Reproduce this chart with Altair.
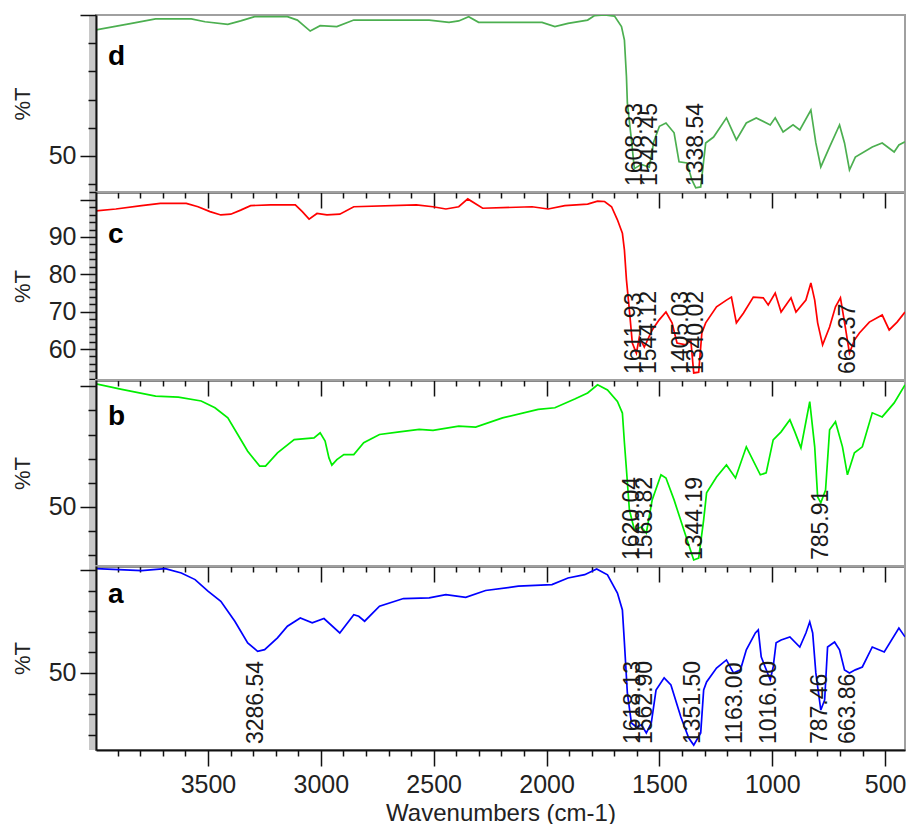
import altair as alt
import pandas as pd

# ---------------- data ----------------
WN_D = [3996, 3838, 3732, 3574, 3513, 3412, 3355, 3293, 3148, 3104,
        3047, 3003, 2929, 2854, 2520, 2432, 2389, 2345, 2301, 2020,
        1963, 1905, 1818, 1787, 1743, 1699, 1668, 1655, 1646, 1642,
        1624, 1611, 1580, 1545, 1525, 1500, 1471, 1435, 1413, 1378,
        1356, 1339, 1317, 1295, 1260, 1203, 1159, 1115, 1071, 1009,
        987, 952, 908, 878, 829, 807, 785, 746, 702, 680,
        658, 632, 557, 513, 460, 439, 412]
T_D = [94.7, 97, 98.6, 98.6, 97.6, 96.7, 97.9, 99.4, 99.4, 98.2,
       94.3, 96.2, 95.9, 98.2, 98.2, 97.4, 97.9, 99.4, 97.4, 97.4,
       95.9, 97, 98.2, 99.8, 100, 99.6, 95.9, 91.1, 78.1, 68.8,
       55.7, 45.5, 47, 46, 55, 60.5, 61.7, 58.2, 47.9, 47.5,
       41.5, 38.7, 39, 54.6, 56.7, 63.5, 55.7, 61.7, 63.5, 61,
       63.5, 58.5, 61, 59.2, 66.3, 54.6, 46.1, 53.2, 61, 54.6,
       45, 49.6, 53.2, 54.6, 51.4, 53.9, 55]

WN_C = [3996, 3908, 3794, 3711, 3596, 3544, 3491, 3443, 3399, 3355,
        3311, 3223, 3113, 3082, 3052, 3017, 2973, 2916, 2854, 2577,
        2503, 2446, 2389, 2349, 2283, 2064, 1993, 1919, 1818, 1774,
        1743, 1712, 1686, 1664, 1655, 1646, 1633, 1620, 1602, 1589,
        1567, 1532, 1501, 1471, 1444, 1422, 1383, 1361, 1348, 1326,
        1312, 1295, 1247, 1203, 1181, 1159, 1128, 1084, 1040, 1018,
        987, 961, 917, 895, 851, 829, 812, 799, 777, 746,
        720, 698, 680, 658, 636, 614, 570, 513, 482, 447,
        412]
T_C = [97, 97.5, 98.4, 99, 99, 98.1, 96.8, 95.9, 96.1, 97.2,
       98.4, 98.6, 98.6, 96.8, 94.8, 96.3, 95.9, 96.1, 98.1, 98.6,
       98.1, 97.5, 98.1, 100.2, 97.7, 98.1, 97.5, 98.4, 98.8, 99.6,
       99.5, 98.1, 94.6, 91, 86.5, 78.5, 70.4, 61.6, 58.9, 63.2,
       60.5, 65.1, 67.8, 69.9, 67, 61.6, 61.1, 62.4, 53.6, 53.8,
       64.3, 67, 71.3, 73.1, 73.9, 67, 69.6, 73.9, 73.7, 71.8,
       75, 69.9, 73.7, 69.9, 73.1, 77.7, 73.1, 67, 61.1, 65.9,
       71.3, 73.7, 67.2, 58.9, 62.4, 64.3, 67.2, 69.1, 65.1, 67.2,
       69.9]

WN_B = [3996, 3882, 3732, 3631, 3530, 3469, 3412, 3368, 3324, 3271,
        3245, 3192, 3118, 3030, 3003, 2981, 2964, 2951, 2929, 2898,
        2854, 2810, 2740, 2652, 2564, 2503, 2389, 2314, 2195, 2037,
        1963, 1875, 1818, 1774, 1730, 1686, 1664, 1655, 1646, 1633,
        1611, 1580, 1558, 1532, 1493, 1471, 1435, 1392, 1348, 1326,
        1304, 1291, 1247, 1203, 1163, 1115, 1053, 1027, 996, 961,
        922, 900, 873, 851, 834, 812, 799, 785, 764, 746,
        720, 689, 667, 636, 601, 557, 513, 460, 412]
T_B = [101, 98.7, 95.9, 95.5, 93.9, 91.1, 86.9, 80, 73.1, 66.9,
       66.9, 72.4, 77.9, 78.6, 80.7, 77.3, 70.3, 67.3, 69.6, 71.7,
       71.7, 76.6, 80, 81.1, 82.1, 81.7, 83.5, 83.1, 86.9, 90.4,
       91.1, 94.7, 97.2, 100.6, 98.5, 93.7, 88.9, 76.6, 65.4, 48.8,
       40.5, 41.7, 39.2, 52.9, 63.3, 62, 52.9, 40.5, 28, 28.8,
       44.6, 55.8, 62.4, 67.4, 62, 74.9, 63.3, 64.1, 77.8, 81.1,
       86.1, 81.1, 74.5, 85.3, 93.6, 74.9, 54.1, 51.7, 57, 82,
       85.3, 74.9, 63.3, 72.4, 74.9, 89, 87.3, 93.1, 100.6]

WN_A = [3996, 3794, 3689, 3618, 3557, 3500, 3443, 3381, 3324, 3280,
        3249, 3192, 3148, 3091, 3038, 2986, 2916, 2854, 2832, 2806,
        2740, 2634, 2520, 2446, 2358, 2270, 2125, 1976, 1905, 1831,
        1778, 1730, 1686, 1664, 1655, 1642, 1624, 1602, 1580, 1558,
        1536, 1515, 1479, 1449, 1405, 1370, 1348, 1317, 1304, 1291,
        1247, 1203, 1172, 1141, 1115, 1075, 1062, 1049, 1009, 996,
        983, 961, 922, 878, 851, 834, 821, 807, 785, 768,
        755, 724, 702, 680, 658, 632, 601, 557, 504, 439,
        412]
T_A = [100.6, 99.7, 100.6, 98.5, 95.3, 89.7, 84.8, 75.1, 64.6, 60.5,
       61.3, 67, 72.7, 76.7, 74.3, 76.4, 69.4, 78.3, 77.5, 75.1,
       82.4, 86.1, 86.4, 88, 86.7, 90, 92.1, 92.9, 96.1, 97.7,
       100.5, 97.6, 88.8, 80.6, 64.6, 40.3, 25.7, 23.8, 24.8, 20.9,
       25.7, 41.7, 47.6, 44.2, 28.6, 18.4, 15, 20.9, 41.7, 45.6,
       52.4, 56.3, 50, 51.5, 61.2, 69.4, 70.9, 57.8, 46.6, 52.9,
       64.6, 66, 67.5, 62.6, 69.4, 74.8, 69.4, 50, 32, 36.9,
       62.6, 65, 61.2, 51.5, 50, 51.5, 52.9, 62.6, 60.2, 71.8,
       67.5]

PEAKS_D = ["1608.33", "1542.45", "1338.54"]
PEAKS_C = ["1611.93", "1544.12", "1405.03", "1340.02", "662.37"]
PEAKS_B = ["1620.04", "1563.82", "1344.19", "785.91"]
PEAKS_A = ["3286.54", "1618.13", "1562.90", "1351.50", "1163.00",
           "1016.00", "787.46", "663.86"]

PANEL_LETTERS = ["d", "c", "b", "a"]
X_TICKS = list(range(500, 4000, 100))
X_DOMAIN = [412, 3996]

# ---------------- styling ----------------
FONT = "Liberation Sans"
WIDTH = 809
COLORS = ["#4caf50", "#ff0000", "#00ee00", "#0000ff"]


def eq_test(vals):
    return " || ".join(f"datum.value === {v}" for v in vals)


def make_panel(wn, t, peaks, letter, color, ydom, yvals, ymajor, ylabels,
               minor, height, letter_y, bottom):
    spec_df = pd.DataFrame({"wn": wn, "T": t})
    peak_df = pd.DataFrame({"label": peaks, "pos": [float(p) for p in peaks]})
    one_df = pd.DataFrame({"letter": [letter]})

    xscale = alt.Scale(domain=X_DOMAIN, reverse=True, nice=False, zero=False)
    yscale = alt.Scale(domain=ydom, nice=False, zero=False)

    xaxis_kw = dict(
        values=X_TICKS,
        tickSize={"condition": {"test": "datum.value % 500 === 0", "value": 16},
                  "value": 6},
        tickColor="#111", tickWidth=1.5,
        domainColor="#111", domainWidth=2,
        grid=False, zindex=2, labelOverlap=False, labelFlush=False,
    )
    if bottom:
        xaxis = alt.Axis(
            labelExpr="datum.value % 500 === 0 ? datum.label : ''",
            format="d", labelFont=FONT, labelFontSize=25, labelColor="#222",
            labelPadding=6, title="Wavenumbers (cm-1)", titleFont=FONT,
            titleFontSize=24, titleFontWeight="normal", titleColor="#222",
            titlePadding=4, **xaxis_kw)
    else:
        xaxis = alt.Axis(labels=False, title=None, **xaxis_kw)

    yaxis = alt.Axis(
        values=yvals,
        tickSize={"condition": {"test": eq_test(ymajor), "value": 16},
                  "value": minor},
        labelExpr=f"({eq_test(ylabels)}) ? datum.label : ''",
        labelBaseline={"condition": {"test": "datum.value === 100", "value": "top"},
                       "value": "middle"},
        tickColor="#111", tickWidth=1.5, domainColor="#111", domainWidth=2,
        grid=False, zindex=2, labelOverlap=False, labelFont=FONT,
        labelFontSize=25, labelColor="#222", labelPadding=4,
        title="%T", titleFont=FONT, titleFontSize=22, titleFontWeight="normal",
        titleColor="#222", titlePadding=14,
    )

    band = alt.Chart(one_df).mark_rect(color="#c8c8c8").encode(
        x=alt.value(-7), x2=alt.value(-1), y=alt.value(0), y2=alt.value(height))

    line = alt.Chart(spec_df).mark_line(color=color, strokeWidth=1.7, clip=True).encode(
        x=alt.X("wn:Q", scale=xscale, axis=xaxis),
        y=alt.Y("T:Q", scale=yscale, axis=yaxis),
        order="wn:Q",
    )

    labels = alt.Chart(peak_df).mark_text(
        angle=270, align="left", baseline="middle", font=FONT, fontSize=23,
        color="#1a1a1a").encode(
        x=alt.X("pos:Q", scale=xscale, axis=xaxis),
        y=alt.value(height - 6),
        text="label:N",
    )

    let = alt.Chart(one_df).mark_text(
        align="left", baseline="alphabetic", font=FONT, fontSize=28,
        fontWeight="bold", color="#000").encode(
        x=alt.value(12), y=alt.value(letter_y), text="letter:N")

    return alt.layer(band, line, labels, let).properties(width=WIDTH, height=height)


p_d = make_panel(WN_D, T_D, PEAKS_D, PANEL_LETTERS[0], COLORS[0],
                 [37.2, 100.0], list(range(40, 101, 10)), [50, 100], [50],
                 8, 177, 50, False)
p_c = make_panel(WN_C, T_C, PEAKS_C, PANEL_LETTERS[1], COLORS[1],
                 [51.7, 102.05], list(range(52, 103, 2)), [60, 70, 80, 90, 100],
                 [60, 70, 80, 90], 7, 188, 51, False)
p_b = make_panel(WN_B, T_B, PEAKS_B, PANEL_LETTERS[2], COLORS[2],
                 [25.5, 102.6], list(range(30, 101, 10)), [50, 100], [50],
                 8, 186, 45, False)
p_a = make_panel(WN_A, T_A, PEAKS_A, PANEL_LETTERS[3], COLORS[3],
                 [12.6, 101.9], list(range(20, 101, 10)), [50, 100], [50],
                 8, 184, 37, True)

chart = alt.vconcat(p_d, p_c, p_b, p_a, spacing=0, bounds="flush").configure_view(
    stroke="#a0a0a0", strokeWidth=2
).properties(
    padding={"left": 2, "top": 5, "right": 0, "bottom": -2},
    background="white",
)

chart.save("out.html", embed_options={"renderer": "svg", "actions": False})
